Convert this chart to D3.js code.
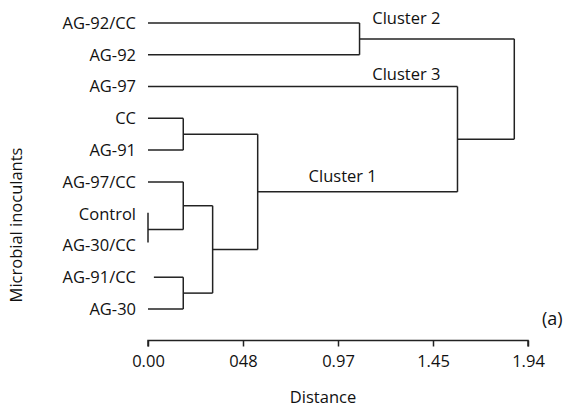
<!DOCTYPE html>
<html>
<head>
<meta charset="utf-8">
<script src="https://cdn.jsdelivr.net/npm/d3@7"></script>
<style>
  body { margin: 0; background: #fff; }
  svg { font-family: "Open Sans", sans-serif; }
  .link { fill: none; stroke: #222; stroke-width: 1.5; }
  .leaf { font-size: 16.5px; fill: #111; }
  .note { font-size: 16.5px; fill: #111; }
</style>
</head>
<body>
<div class="chart"></div>
<script>
// leaves, top to bottom
const leaves = ["AG-92/CC", "AG-92", "AG-97", "CC", "AG-91", "AG-97/CC",
                "Control", "AG-30/CC", "AG-91/CC", "AG-30"];
// distance where each leaf branch starts (AG-91/CC is drawn a bit off zero)
const leafStart = [0, 0, 0, 0, 0, 0, 0, 0, 0.03, 0];
// linkage rows: [child a, child b, height]; ids >= leaves.length point to earlier rows
const linkage = [
  [6, 7, 0.00],    // 10 Control + AG-30/CC
  [3, 4, 0.18],    // 11 CC + AG-91
  [5, 10, 0.18],   // 12
  [8, 9, 0.18],    // 13 AG-91/CC + AG-30
  [12, 13, 0.33],  // 14
  [11, 14, 0.56],  // 15 cluster 1
  [0, 1, 1.08],    // 16 cluster 2
  [2, 15, 1.58],   // 17
  [16, 17, 1.87]   // 18 root
];
const tickValues = [0, 0.485, 0.97, 1.455, 1.94];
const tickLabels = ["0.00", "048", "0.97", "1.45", "1.94"];

const width = 569, height = 409;
const svg = d3.select('.chart').append('svg')
    .attr('width', width)
    .attr('height', height)
    .style('background', '#fff');

const x = d3.scaleLinear().domain([0, 1.94]).range([148, 528]);
const y = d3.scalePoint().domain(leaves).range([23, 309]);

// node positions: leaves first, then merges
const nodes = leaves.map((name, i) => ({ h: 0, y: y(name) }));
linkage.forEach(([a, b, h]) => {
    nodes.push({ h: h, y: (nodes[a].y + nodes[b].y) / 2, a: a, b: b });
});

const g = svg.append('g');

// leaf stubs and elbows
nodes.forEach((n, i) => {
    if (n.a === undefined) return;
    [n.a, n.b].forEach(c => {
        const child = nodes[c];
        const start = c < leaves.length ? leafStart[c] : child.h;
        if (n.h > start) {
            g.append('line').attr('class', 'link')
                .attr('x1', x(start)).attr('x2', x(n.h))
                .attr('y1', child.y).attr('y2', child.y);
        }
    });
    let y1 = nodes[n.a].y, y2 = nodes[n.b].y;
    if (n.h === 0) { y1 -= 1; y2 -= 3; }
    g.append('line').attr('class', 'link')
        .attr('x1', x(n.h)).attr('x2', x(n.h))
        .attr('y1', y1).attr('y2', y2);
});

// leaf labels
g.selectAll('.leaf')
    .data(leaves).enter()
    .append('text')
    .attr('class', 'leaf')
    .attr('x', 136)
    .attr('y', d => y(d))
    .attr('dy', '0.36em')
    .attr('text-anchor', 'end')
    .text(d => d);

// x axis
const axis = svg.append('g')
    .attr('transform', 'translate(0, 340.5)')
    .call(d3.axisBottom(x)
        .tickValues(tickValues)
        .tickSize(6)
        .tickPadding(9)
        .tickFormat((d, i) => tickLabels[i]));
axis.select('.domain').attr('stroke', '#222').attr('stroke-width', 1.5)
    .attr('d', `M${x(0)},6V0H${x(1.94)}V6`);
axis.selectAll('.tick line').attr('stroke', '#222').attr('stroke-width', 1.5);
axis.selectAll('.tick text')
    .style('font-family', '"Open Sans", sans-serif')
    .style('font-size', '16.5px')
    .attr('fill', '#111');

// cluster notes
svg.append('text').attr('class', 'note')
    .attr('x', x(1.145)).attr('y', nodes[16].y - 15).text('Cluster 2');
svg.append('text').attr('class', 'note')
    .attr('x', x(1.145)).attr('y', nodes[2].y - 7).text('Cluster 3');
svg.append('text').attr('class', 'note')
    .attr('x', x(0.82)).attr('y', nodes[15].y - 10).text('Cluster 1');
svg.append('text').attr('class', 'note')
    .attr('x', 542).attr('y', 325)
    .style('font-size', '18px')
    .text('(a)');

// axis titles
svg.append('text').attr('class', 'note')
    .attr('x', 323).attr('y', 403)
    .attr('text-anchor', 'middle')
    .text('Distance');
svg.append('text').attr('class', 'note')
    .attr('transform', 'translate(22, 225) rotate(-90)')
    .attr('text-anchor', 'middle')
    .text('Microbial inoculants');
</script>
</body>
</html>
